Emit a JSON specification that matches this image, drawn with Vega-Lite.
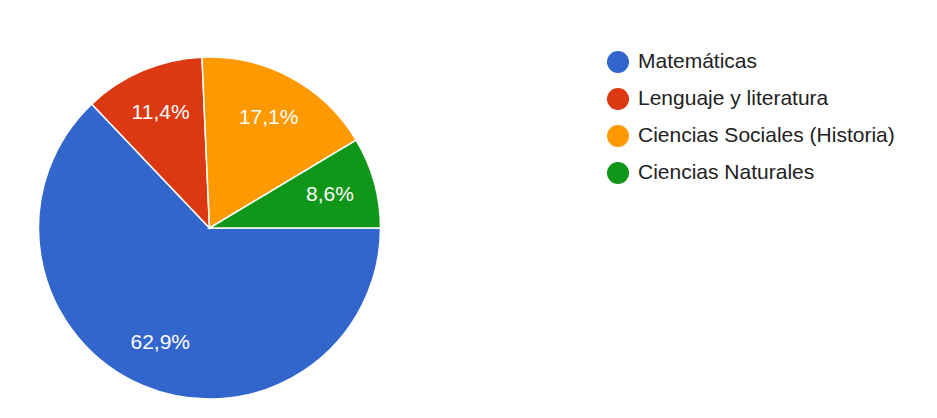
{
  "$schema": "https://vega.github.io/schema/vega-lite/v6.json",
  "autosize": "none",
  "padding": {"left": 0, "top": 0, "right": 518, "bottom": 0},
  "width": 419,
  "height": 456,
  "background": "white",
  "config": {
    "view": {"stroke": null},
    "font": "Liberation Sans"
  },
  "data": {
    "values": [
      {"asignatura": "Matemáticas", "pct": 62.9, "etiqueta": "62,9%", "orden": 1},
      {"asignatura": "Lenguaje y literatura", "pct": 11.4, "etiqueta": "11,4%", "orden": 2},
      {"asignatura": "Ciencias Sociales (Historia)", "pct": 17.1, "etiqueta": "17,1%", "orden": 3},
      {"asignatura": "Ciencias Naturales", "pct": 8.6, "etiqueta": "8,6%", "orden": 4}
    ]
  },
  "encoding": {
    "theta": {"field": "pct", "type": "quantitative", "stack": true, "scale": {"range": [1.5708, 7.85398]}},
    "order": {"field": "orden", "type": "quantitative"}
  },
  "layer": [
    {
      "mark": {"type": "arc", "outerRadius": 171, "stroke": "white", "strokeWidth": 1.5},
      "encoding": {
        "color": {
          "field": "asignatura",
          "type": "nominal",
          "sort": null,
          "scale": {
            "domain": ["Matemáticas", "Lenguaje y literatura", "Ciencias Sociales (Historia)", "Ciencias Naturales"],
            "range": ["#3366cc", "#dc3912", "#ff9900", "#109618"]
          },
          "legend": {
            "title": null,
            "orient": "none",
            "legendX": 607,
            "legendY": 51,
            "symbolType": "circle",
            "symbolSize": 484,
            "symbolStrokeWidth": 0,
            "labelFontSize": 21,
            "labelColor": "#222222",
            "labelFont": "Liberation Sans",
            "labelOffset": 9,
            "rowPadding": 15,
            "padding": 0,
            "labelLimit": 400
          }
        }
      }
    },
    {
      "mark": {"type": "text", "radius": 125, "fill": "white", "fontSize": 21, "font": "Liberation Sans"},
      "encoding": {
        "text": {"field": "etiqueta", "type": "nominal"}
      }
    }
  ]
}
